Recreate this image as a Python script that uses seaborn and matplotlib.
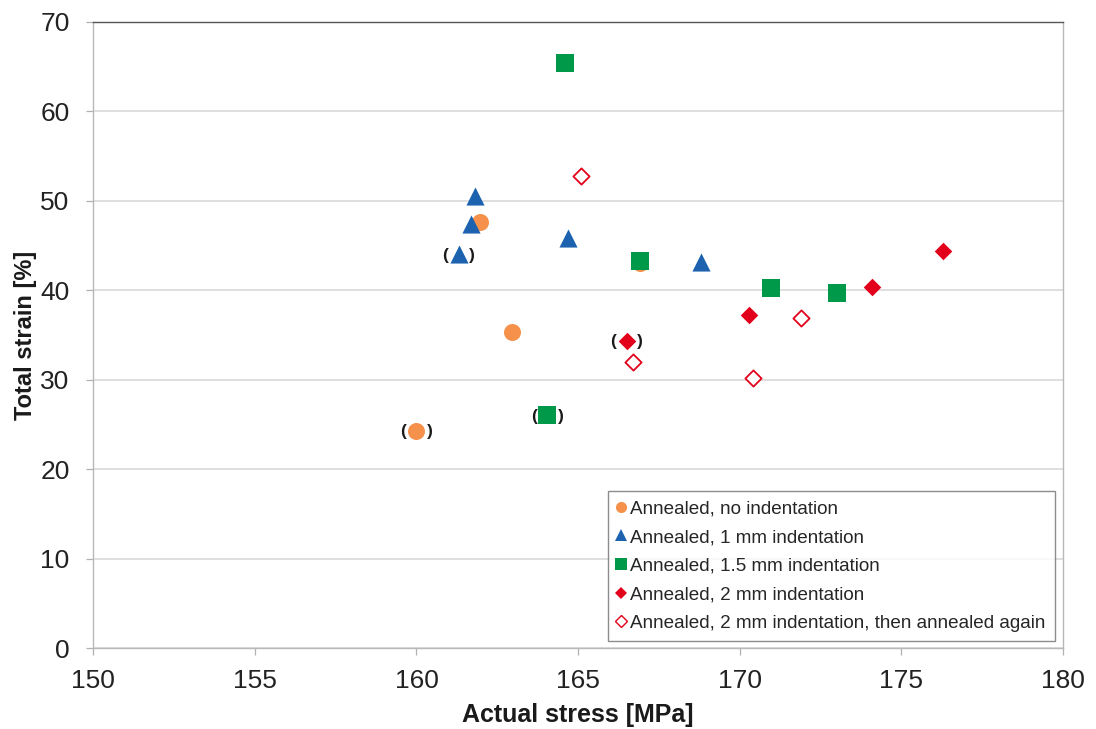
import matplotlib
matplotlib.use("Agg")
import matplotlib.pyplot as plt
import seaborn as sns
import pandas as pd
from matplotlib.lines import Line2D

# Measured specimens: actual stress [MPa] vs total strain [%]
no_ind_x = [160.0, 162.95, 161.95, 166.9]
no_ind_y = [24.3, 35.3, 47.6, 43.0]

ind1_x = [161.8, 161.7, 161.3, 164.7, 168.8]
ind1_y = [50.5, 47.4, 44.0, 45.8, 43.2]

ind15_x = [164.6, 164.05, 166.9, 170.95, 173.0]
ind15_y = [65.4, 26.0, 43.3, 40.2, 39.7]

ind2_x = [166.5, 170.3, 174.1, 176.3]
ind2_y = [34.3, 37.2, 40.4, 44.4]

ind2_re_x = [165.1, 166.7, 170.4, 171.9]
ind2_re_y = [52.8, 32.0, 30.2, 36.9]

# Points shown in parentheses (questionable results)
flagged_x = [160.0, 161.3, 164.05, 166.5]
flagged_y = [24.3, 44.0, 26.0, 34.3]

series_names = [
    "Annealed, no indentation",
    "Annealed, 1 mm indentation",
    "Annealed, 1.5 mm indentation",
    "Annealed, 2 mm indentation",
    "Annealed, 2 mm indentation, then annealed again",
]

x_ticks = [150, 155, 160, 165, 170, 175, 180]
y_ticks = [0, 10, 20, 30, 40, 50, 60, 70]

sns.set_theme(style="white")
plt.rcParams["font.family"] = ["Liberation Sans", "DejaVu Sans"]

fig = plt.figure(figsize=(10.96, 7.29), dpi=100)
ax = fig.add_axes([0.085, 0.111, 0.885, 0.859])

orange = "#F5914A"
blue = "#1C62AE"
green = "#00994A"
red = "#E3001B"

styles = [
    (no_ind_x, no_ind_y, "o", orange, orange, 150),
    (ind1_x, ind1_y, "^", blue, blue, 170),
    (ind15_x, ind15_y, "s", green, green, 150),
    (ind2_x, ind2_y, "D", red, red, 80),
    (ind2_re_x, ind2_re_y, "D", "white", red, 68),
]

for (xs, ys, mk, fc, ec, sz), name in zip(styles, series_names):
    df = pd.DataFrame({"stress": xs, "strain": ys})
    sns.scatterplot(data=df, x="stress", y="strain", marker=mk, s=sz,
                    color=fc, edgecolor=ec, linewidth=1.3 if fc == "white" else 0,
                    ax=ax, zorder=3, legend=False)

# Parentheses around the questionable results
for fx, fy in zip(flagged_x, flagged_y):
    for txt, dx in (("(", -9.8), (")", 9.8)):
        ax.annotate(txt, (fx, fy), xytext=(dx, -0.5), textcoords="offset points",
                    ha="center", va="center", fontsize=12.5, fontweight="bold",
                    color="#1a1a1a", zorder=4)

ax.set_xlim(150, 180)
ax.set_ylim(0, 70)
ax.set_xticks(x_ticks)
ax.set_yticks(y_ticks)
ax.set_xticklabels([str(t) for t in x_ticks], fontsize=19, color="#222222")
ax.set_yticklabels([str(t) for t in y_ticks], fontsize=19, color="#222222")
ax.tick_params(axis="both", which="major", direction="out", length=5, width=0.9,
               color="#b0b0b0", bottom=True, left=True)
ax.tick_params(axis="x", pad=10)
ax.tick_params(axis="y", pad=12)

ax.yaxis.grid(True, color="#dcdcdc", linewidth=1.3)
ax.xaxis.grid(False)
ax.set_axisbelow(True)
for side in ["left", "bottom", "top", "right"]:
    ax.spines[side].set_color("#b8b8b8")
    ax.spines[side].set_linewidth(1.0)
ax.spines["top"].set_color("#555555")

ax.set_xlabel("Actual stress [MPa]", fontsize=18, fontweight="bold",
              color="#1a1a1a", labelpad=7)
ax.set_ylabel("Total strain [%]", fontsize=17, fontweight="bold",
              color="#1a1a1a", labelpad=2)

handles = []
for (xs, ys, mk, fc, ec, sz), name in zip(styles, series_names):
    handles.append(Line2D([], [], linestyle="none", marker=mk,
                          markersize=8 if mk != "D" else 6.5,
                          markerfacecolor=fc, markeredgecolor=ec,
                          markeredgewidth=1.0 if fc == "white" else 0, label=name))
leg = ax.legend(handles=handles, loc="lower right", bbox_to_anchor=(0.9915, 0.011),
                fontsize=13.6, frameon=True, fancybox=False, handletextpad=0.3,
                handlelength=0.35, borderpad=0.5, labelspacing=0.6,
                borderaxespad=0)
leg.get_frame().set_edgecolor("#707070")
leg.get_frame().set_linewidth(1.0)

fig.savefig("out.png", dpi=100, facecolor="white")
